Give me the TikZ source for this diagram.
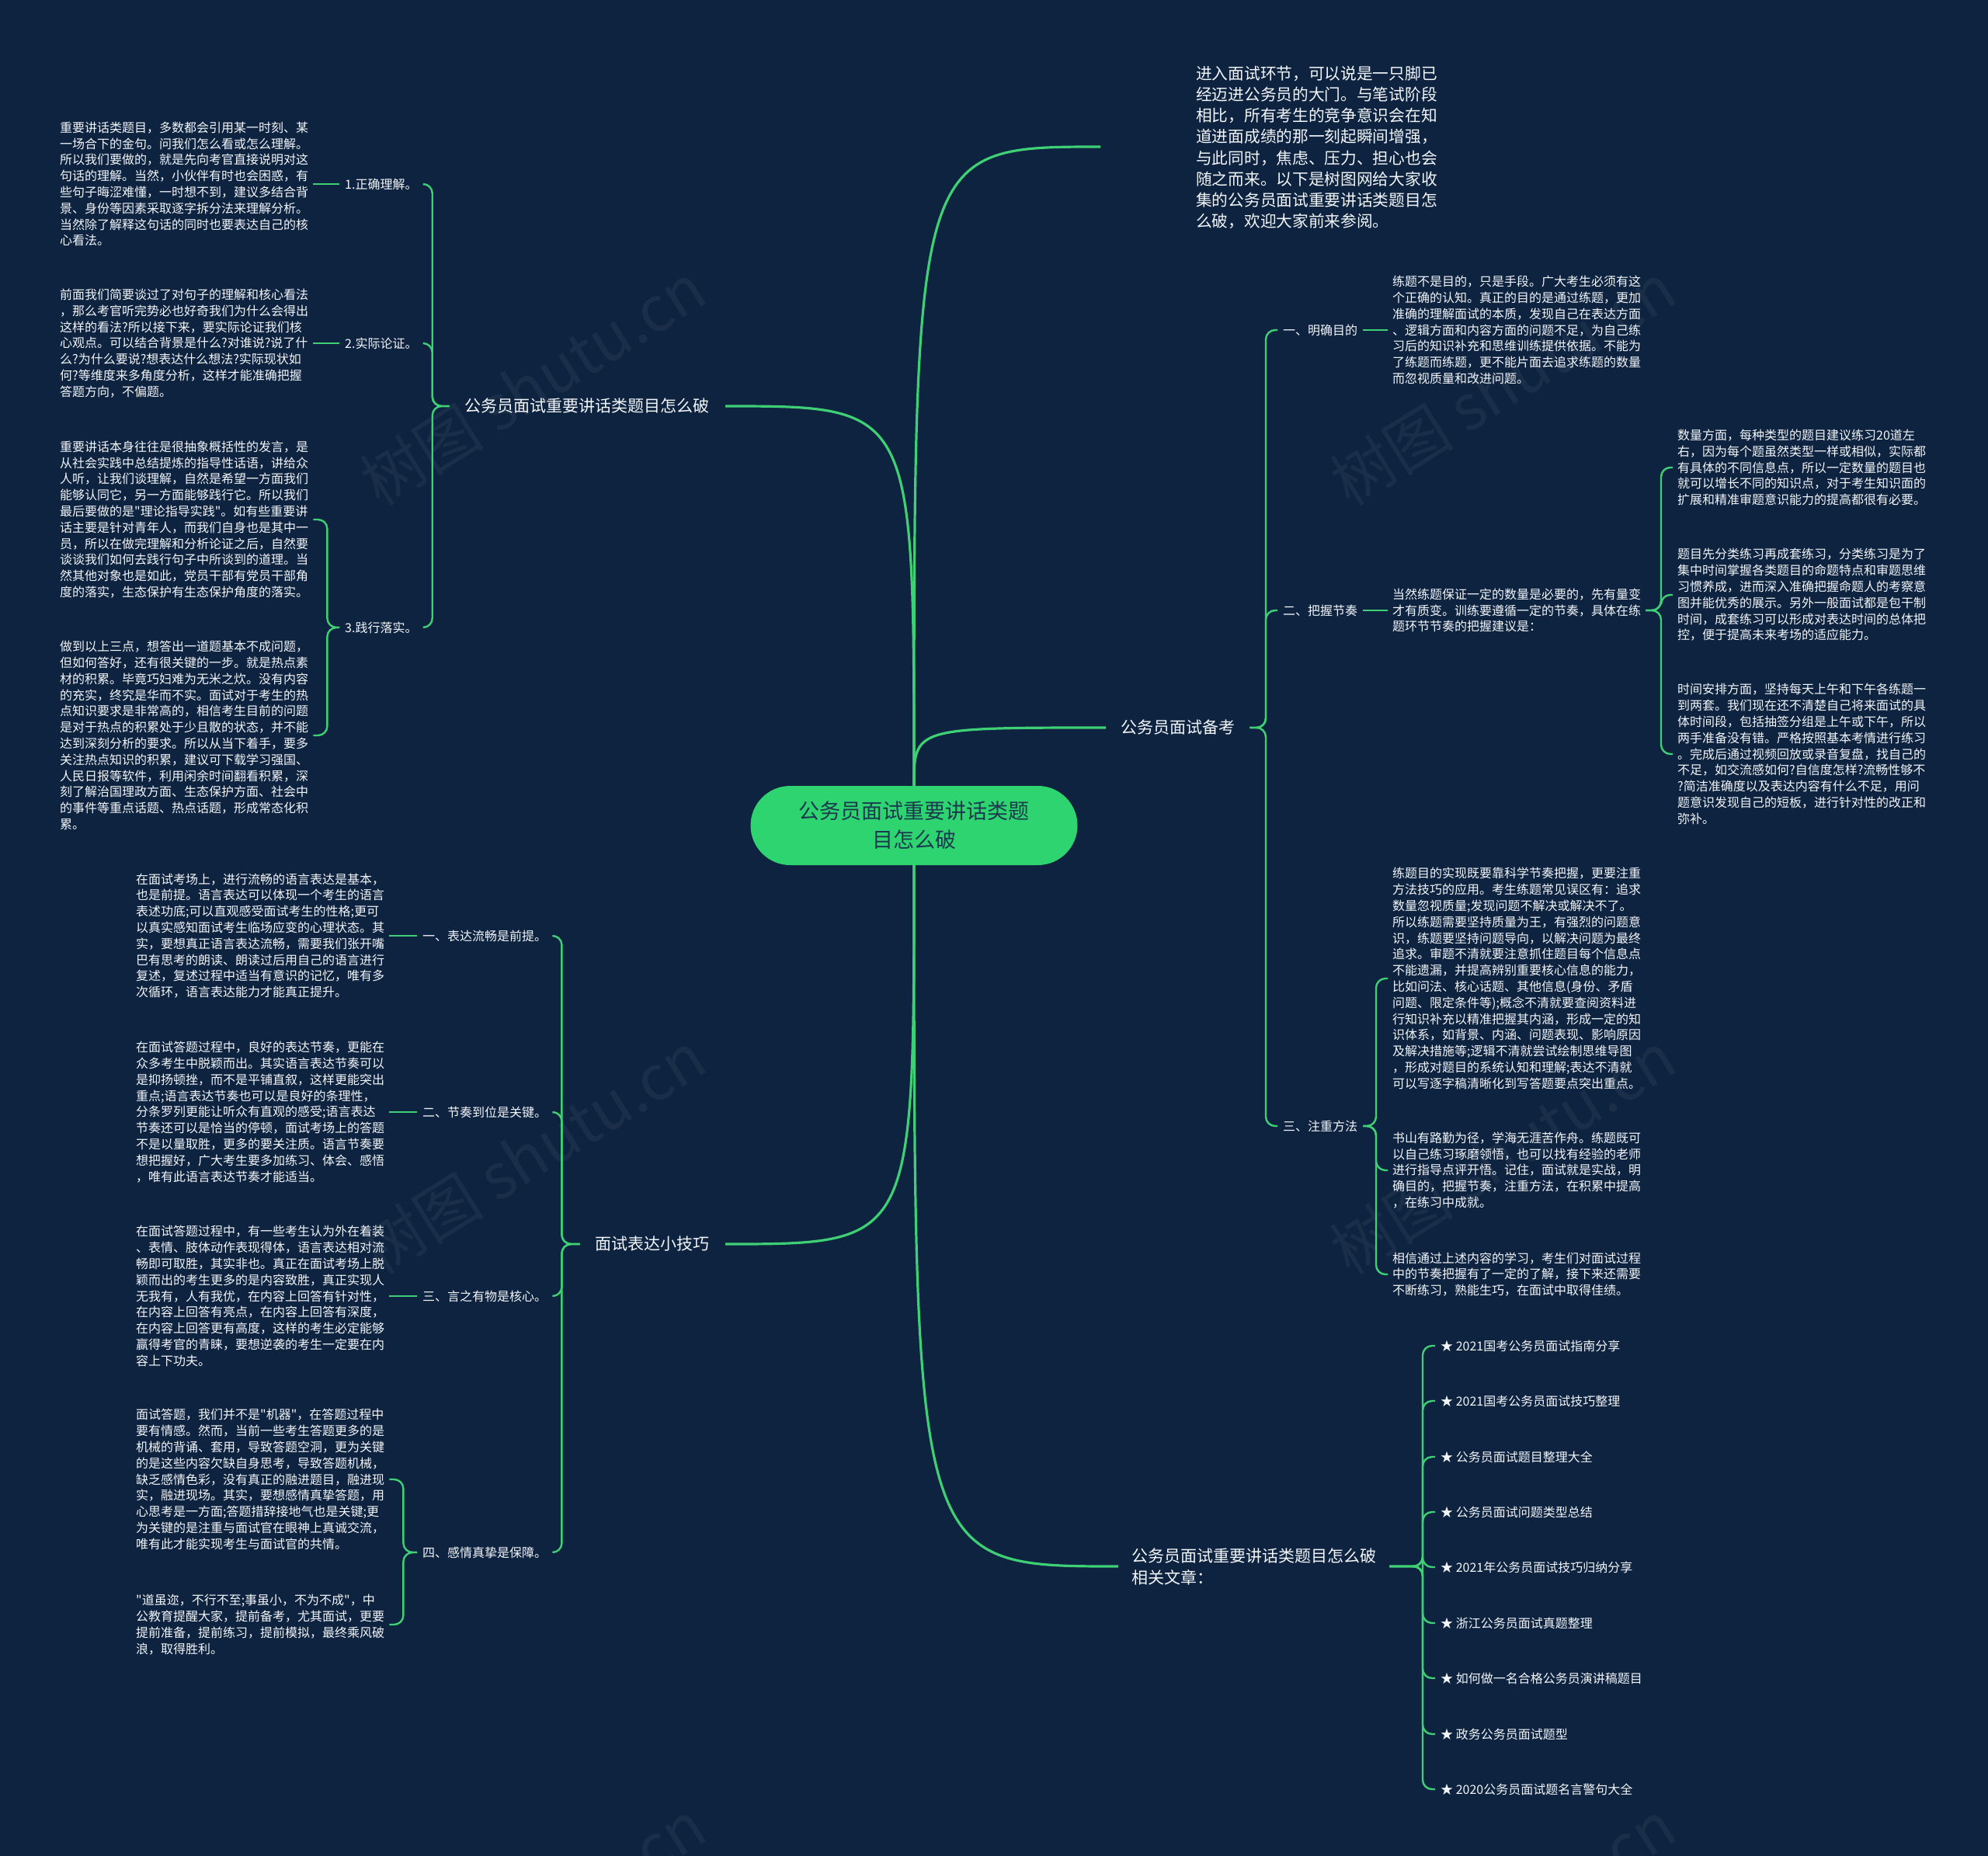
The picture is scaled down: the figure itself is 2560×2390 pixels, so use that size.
\documentclass[tikz,border=0pt]{standalone}
\usepackage{fontspec}
\newfontfamily\cjk{Noto Sans CJK SC}
\usetikzlibrary{calc}
\definecolor{bg}{HTML}{0E2340}
\definecolor{ln}{HTML}{3FCF74}
\definecolor{cfill}{HTML}{2ED46F}
\definecolor{ctext}{HTML}{1B3A50}
\definecolor{tx}{HTML}{F3F6F9}
\tikzset{
  blk/.style={font=\cjk\fontsize{16}{20.8}\selectfont, text=tx, align=left, inner xsep=6pt, inner ysep=2pt, anchor=west},
  lab/.style={font=\cjk\fontsize{16}{20}\selectfont, text=tx, inner xsep=7pt, inner ysep=3pt, anchor=west},
  mainlab/.style={font=\cjk\fontsize{21}{28}\selectfont, text=tx, inner xsep=20pt, inner ysep=4pt},
  trunk/.style={draw=ln, line width=3.2pt},
  br/.style={draw=ln, line width=2.4pt, rounded corners=12pt},
  wm/.style={font=\cjk\fontsize{80}{80}\selectfont, text=white, opacity=0.05, rotate=32}
}
\begin{document}
\begin{tikzpicture}[x=1pt,y=-1pt]
\useasboundingbox (0,0) rectangle (2560,2390);
\fill[bg] (0,0) rectangle (2560,2390);

% watermarks
\node[wm] (w1) at (686,495) {树图 shutu.cn};
\node[wm] (w2) at (1935,495) {树图 shutu.cn};
\node[wm] (w3) at (686,1485) {树图 shutu.cn};
\node[wm] (w4) at (1935,1485) {树图 shutu.cn};
\node[wm] (w5) at (686,2475) {树图 shutu.cn};
\node[wm] (w6) at (1935,2475) {树图 shutu.cn};

% central node
\node[fill=cfill, rounded corners=51pt, minimum width=421pt, minimum height=102pt,
      font=\cjk\fontsize{27}{37}\selectfont, text=ctext, align=center, inner sep=0pt]
      (c) at (1177,1063) {公务员面试重要讲话类题\\目怎么破};

% main branches
\node[font=\cjk\fontsize{20.7}{27.2}\selectfont, text=tx, align=left, anchor=west, inner xsep=0pt] (intro) at (1540,190) {进入面试环节，可以说是一只脚已\\
经迈进公务员的大门。与笔试阶段\\
相比，所有考生的竞争意识会在知\\
道进面成绩的那一刻起瞬间增强，\\
与此同时，焦虑、压力、担心也会\\
随之而来。以下是树图网给大家收\\
集的公务员面试重要讲话类题目怎\\
么破，欢迎大家前来参阅。};
\coordinate (introin) at (1417,189);

\node[mainlab, anchor=east] (p1) at (934,523) {公务员面试重要讲话类题目怎么破};
\node[mainlab, anchor=west, inner xsep=19pt] (p3) at (1424,937) {公务员面试备考};
\node[mainlab, anchor=east] (p4) at (934,1602) {面试表达小技巧};
\node[mainlab, anchor=west, align=left, inner xsep=17pt] (p5) at (1440,2017) {公务员面试重要讲话类题目怎么破\\相关文章：};

\draw[trunk] (c.north) .. controls (c.north |- introin) and (c.north |- introin) .. (introin);
\draw[trunk] (c.north) .. controls (c.north |- p1.east) and (c.north |- p1.east) .. (p1.east);
\draw[trunk] (c.north) .. controls (c.north |- p3.west) and (c.north |- p3.west) .. (p3.west);
\draw[trunk] (c.south) .. controls (c.south |- p4.east) and (c.south |- p4.east) .. (p4.east);
\draw[trunk] (c.south) .. controls (c.south |- p5.west) and (c.south |- p5.west) .. (p5.west);

% ---------- group A (left top)
\node[lab] (a1l) at (437,237) {1.正确理解。};
\node[lab] (a2l) at (437,442) {2.实际论证。};
\node[lab] (a3l) at (437,808) {3.践行落实。};

\node[blk] (a1) at (71,237) {重要讲话类题目，多数都会引用某一时刻、某\\
一场合下的金句。问我们怎么看或怎么理解。\\
所以我们要做的，就是先向考官直接说明对这\\
句话的理解。当然，小伙伴有时也会困惑，有\\
些句子晦涩难懂，一时想不到，建议多结合背\\
景、身份等因素采取逐字拆分法来理解分析。\\
当然除了解释这句话的同时也要表达自己的核\\
心看法。};

\node[blk] (a2) at (71,442) {前面我们简要谈过了对句子的理解和核心看法\\
，那么考官听完势必也好奇我们为什么会得出\\
这样的看法?所以接下来，要实际论证我们核\\
心观点。可以结合背景是什么?对谁说?说了什\\
么?为什么要说?想表达什么想法?实际现状如\\
何?等维度来多角度分析，这样才能准确把握\\
答题方向，不偏题。};

\node[blk] (a3) at (71,669) {重要讲话本身往往是很抽象概括性的发言，是\\
从社会实践中总结提炼的指导性话语，讲给众\\
人听，让我们谈理解，自然是希望一方面我们\\
能够认同它，另一方面能够践行它。所以我们\\
最后要做的是"理论指导实践"。如有些重要讲\\
话主要是针对青年人，而我们自身也是其中一\\
员，所以在做完理解和分析论证之后，自然要\\
谈谈我们如何去践行句子中所谈到的道理。当\\
然其他对象也是如此，党员干部有党员干部角\\
度的落实，生态保护有生态保护角度的落实。};

\node[blk] (a4) at (71,947) {做到以上三点，想答出一道题基本不成问题，\\
但如何答好，还有很关键的一步。就是热点素\\
材的积累。毕竟巧妇难为无米之炊。没有内容\\
的充实，终究是华而不实。面试对于考生的热\\
点知识要求是非常高的，相信考生目前的问题\\
是对于热点的积累处于少且散的状态，并不能\\
达到深刻分析的要求。所以从当下着手，要多\\
关注热点知识的积累，建议可下载学习强国、\\
人民日报等软件，利用闲余时间翻看积累，深\\
刻了解治国理政方面、生态保护方面、社会中\\
的事件等重点话题、热点话题，形成常态化积\\
累。};

\draw[br] (p1.west) -| ($(a1l.east)+(12,0)$) -- (a1l.east);
\draw[br] (p1.west) -| ($(a2l.east)+(12,0)$) -- (a2l.east);
\draw[br] (p1.west) -| ($(a3l.east)+(12,0)$) -- (a3l.east);
\draw[br] (a1.east) -- (a1l.west);
\draw[br] (a2.east) -- (a2l.west);
\draw[br] (a3l.west) -| ($(a3.east)+(18,0)$) -- (a3.east);
\draw[br] (a3l.west) -| ($(a4.east)+(18,0)$) -- (a4.east);

% ---------- group B (left bottom)
\node[lab] (b1l) at (537,1205) {一、表达流畅是前提。};
\node[lab] (b2l) at (537,1432) {二、节奏到位是关键。};
\node[lab] (b3l) at (537,1669) {三、言之有物是核心。};
\node[lab] (b4l) at (537,1999) {四、感情真挚是保障。};

\node[blk] (b1) at (169,1205) {在面试考场上，进行流畅的语言表达是基本，\\
也是前提。语言表达可以体现一个考生的语言\\
表述功底;可以直观感受面试考生的性格;更可\\
以真实感知面试考生临场应变的心理状态。其\\
实，要想真正语言表达流畅，需要我们张开嘴\\
巴有思考的朗读、朗读过后用自己的语言进行\\
复述，复述过程中适当有意识的记忆，唯有多\\
次循环，语言表达能力才能真正提升。};

\node[blk] (b2) at (169,1432) {在面试答题过程中，良好的表达节奏，更能在\\
众多考生中脱颖而出。其实语言表达节奏可以\\
是抑扬顿挫，而不是平铺直叙，这样更能突出\\
重点;语言表达节奏也可以是良好的条理性，\\
分条罗列更能让听众有直观的感受;语言表达\\
节奏还可以是恰当的停顿，面试考场上的答题\\
不是以量取胜，更多的要关注质。语言节奏要\\
想把握好，广大考生要多加练习、体会、感悟\\
，唯有此语言表达节奏才能适当。};

\node[blk] (b3) at (169,1669) {在面试答题过程中，有一些考生认为外在着装\\
、表情、肢体动作表现得体，语言表达相对流\\
畅即可取胜，其实非也。真正在面试考场上脱\\
颖而出的考生更多的是内容致胜，真正实现人\\
无我有，人有我优，在内容上回答有针对性，\\
在内容上回答有亮点，在内容上回答有深度，\\
在内容上回答更有高度，这样的考生必定能够\\
赢得考官的青睐，要想逆袭的考生一定要在内\\
容上下功夫。};

\node[blk] (b4a) at (169,1905) {面试答题，我们并不是"机器"，在答题过程中\\
要有情感。然而，当前一些考生答题更多的是\\
机械的背诵、套用，导致答题空洞，更为关键\\
的是这些内容欠缺自身思考，导致答题机械，\\
缺乏感情色彩，没有真正的融进题目，融进现\\
实，融进现场。其实，要想感情真挚答题，用\\
心思考是一方面;答题措辞接地气也是关键;更\\
为关键的是注重与面试官在眼神上真诚交流，\\
唯有此才能实现考生与面试官的共情。};

\node[blk] (b4b) at (169,2092) {"道虽迩，不行不至;事虽小，不为不成"，中\\
公教育提醒大家，提前备考，尤其面试，更要\\
提前准备，提前练习，提前模拟，最终乘风破\\
浪，取得胜利。};

\draw[br] (p4.west) -| ($(b1l.east)+(12,0)$) -- (b1l.east);
\draw[br] (p4.west) -| ($(b2l.east)+(12,0)$) -- (b2l.east);
\draw[br] (p4.west) -| ($(b3l.east)+(12,0)$) -- (b3l.east);
\draw[br] (p4.west) -| ($(b4l.east)+(12,0)$) -- (b4l.east);
\draw[br] (b1.east) -- (b1l.west);
\draw[br] (b2.east) -- (b2l.west);
\draw[br] (b3.east) -- (b3l.west);
\draw[br] (b4l.west) -| ($(b4a.east)+(18,0)$) -- (b4a.east);
\draw[br] (b4l.west) -| ($(b4b.east)+(18,0)$) -- (b4b.east);

% ---------- group C (right)
\node[lab] (c1l) at (1645,425) {一、明确目的};
\node[lab] (c2l) at (1645,786) {二、把握节奏};
\node[lab] (c3l) at (1645,1450) {三、注重方法};

\node[blk] (c1) at (1787,425) {练题不是目的，只是手段。广大考生必须有这\\
个正确的认知。真正的目的是通过练题，更加\\
准确的理解面试的本质，发现自己在表达方面\\
、逻辑方面和内容方面的问题不足，为自己练\\
习后的知识补充和思维训练提供依据。不能为\\
了练题而练题，更不能片面去追求练题的数量\\
而忽视质量和改进问题。};

\node[blk] (c2) at (1787,786) {当然练题保证一定的数量是必要的，先有量变\\
才有质变。训练要遵循一定的节奏，具体在练\\
题环节节奏的把握建议是：};

\node[blk] (d1) at (2154,602) {数量方面，每种类型的题目建议练习20道左\\
右，因为每个题虽然类型一样或相似，实际都\\
有具体的不同信息点，所以一定数量的题目也\\
就可以增长不同的知识点，对于考生知识面的\\
扩展和精准审题意识能力的提高都很有必要。};

\node[blk] (d2) at (2154,766) {题目先分类练习再成套练习，分类练习是为了\\
集中时间掌握各类题目的命题特点和审题思维\\
习惯养成，进而深入准确把握命题人的考察意\\
图并能优秀的展示。另外一般面试都是包干制\\
时间，成套练习可以形成对表达时间的总体把\\
控，便于提高未来考场的适应能力。};

\node[blk] (d3) at (2154,971) {时间安排方面，坚持每天上午和下午各练题一\\
到两套。我们现在还不清楚自己将来面试的具\\
体时间段，包括抽签分组是上午或下午，所以\\
两手准备没有错。严格按照基本考情进行练习\\
。完成后通过视频回放或录音复盘，找自己的\\
不足，如交流感如何?自信度怎样?流畅性够不\\
?简洁准确度以及表达内容有什么不足，用问\\
题意识发现自己的短板，进行针对性的改正和\\
弥补。};

\node[blk] (e1) at (1787,1260) {练题目的实现既要靠科学节奏把握，更要注重\\
方法技巧的应用。考生练题常见误区有：追求\\
数量忽视质量;发现问题不解决或解决不了。\\
所以练题需要坚持质量为王，有强烈的问题意\\
识，练题要坚持问题导向，以解决问题为最终\\
追求。审题不清就要注意抓住题目每个信息点\\
不能遗漏，并提高辨别重要核心信息的能力，\\
比如问法、核心话题、其他信息(身份、矛盾\\
问题、限定条件等);概念不清就要查阅资料进\\
行知识补充以精准把握其内涵，形成一定的知\\
识体系，如背景、内涵、问题表现、影响原因\\
及解决措施等;逻辑不清就尝试绘制思维导图\\
，形成对题目的系统认知和理解;表达不清就\\
可以写逐字稿清晰化到写答题要点突出重点。};

\node[blk] (e2) at (1787,1507) {书山有路勤为径，学海无涯苦作舟。练题既可\\
以自己练习琢磨领悟，也可以找有经验的老师\\
进行指导点评开悟。记住，面试就是实战，明\\
确目的，把握节奏，注重方法，在积累中提高\\
，在练习中成就。};

\node[blk] (e3) at (1787,1641) {相信通过上述内容的学习，考生们对面试过程\\
中的节奏把握有了一定的了解，接下来还需要\\
不断练习，熟能生巧，在面试中取得佳绩。};

\draw[br] (p3.east) -| ($(c1l.west)+(-15,0)$) -- (c1l.west);
\draw[br] (p3.east) -| ($(c2l.west)+(-15,0)$) -- (c2l.west);
\draw[br] (p3.east) -| ($(c3l.west)+(-15,0)$) -- (c3l.west);
\draw[br] (c1l.east) -- (c1.west);
\draw[br] (c2l.east) -- (c2.west);
\draw[br] (c2.east) -| ($(d1.west)+(-15,0)$) -- (d1.west);
\draw[br] (c2.east) -| ($(d2.west)+(-15,0)$) -- (d2.west);
\draw[br] (c2.east) -| ($(d3.west)+(-15,0)$) -- (d3.west);
\draw[br] (c3l.east) -| ($(e1.west)+(-15,0)$) -- (e1.west);
\draw[br] (c3l.east) -| ($(e2.west)+(-15,0)$) -- (e2.west);
\draw[br] (c3l.east) -| ($(e3.west)+(-15,0)$) -- (e3.west);

% ---------- group R (related articles)
\node[lab] (r1) at (1848,1733) {★ 2021国考公务员面试指南分享};
\node[lab] (r2) at (1848,1804) {★ 2021国考公务员面试技巧整理};
\node[lab] (r3) at (1848,1876) {★ 公务员面试题目整理大全};
\node[lab] (r4) at (1848,1947) {★ 公务员面试问题类型总结};
\node[lab] (r5) at (1848,2018) {★ 2021年公务员面试技巧归纳分享};
\node[lab] (r6) at (1848,2090) {★ 浙江公务员面试真题整理};
\node[lab] (r7) at (1848,2161) {★ 如何做一名合格公务员演讲稿题目};
\node[lab] (r8) at (1848,2233) {★ 政务公务员面试题型};
\node[lab] (r9) at (1848,2304) {★ 2020公务员面试题名言警句大全};

\foreach \r in {r1,r2,r3,r4,r5,r6,r7,r8,r9}{
  \draw[br] (p5.east) -| ($(\r.west)+(-16,0)$) -- (\r.west);
}
\end{tikzpicture}
\end{document}
